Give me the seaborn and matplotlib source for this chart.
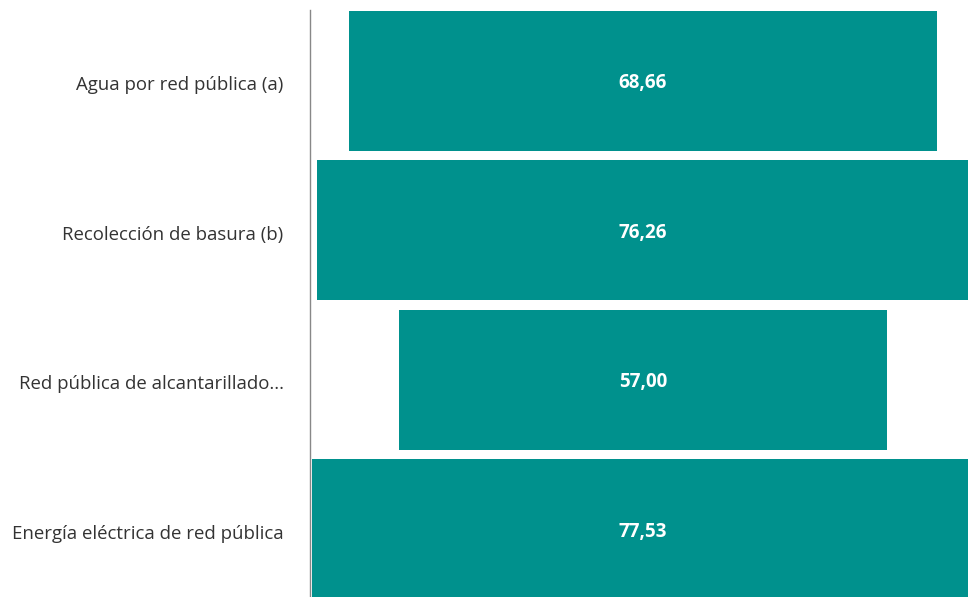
import matplotlib
matplotlib.use("Agg")
import matplotlib.pyplot as plt
import matplotlib.transforms as mtransforms
import seaborn as sns
import pandas as pd

categories = [
    "Agua por red pública (a)",
    "Recolección de basura (b)",
    "Red pública de alcantarillado...",
    "Energía eléctrica de red pública",
]
values = [68.66, 76.26, 57.00, 77.53]

bar_color = "#00918d"

df = pd.DataFrame({"categoria": categories, "valor": values})

sns.set_style("white")
plt.rcParams["font.family"] = ["Open Sans", "DejaVu Sans"]

fig = plt.figure(figsize=(9.68, 5.97), dpi=100)
ax = fig.add_axes([310 / 968, -7 / 597, 666 / 968, 598 / 597])

sns.barplot(data=df, x="valor", y="categoria", orient="h", color=bar_color,
            saturation=1, width=0.936, ax=ax)

# center each bar around zero (funnel layout)
for patch in ax.patches:
    w = patch.get_width()
    patch.set_x(-w / 2)
    patch.set_edgecolor("none")

shift = mtransforms.ScaledTranslation(0, -2.5 / 100, fig.dpi_scale_trans)

for i, v in enumerate(values):
    ax.text(0, i, f"{v:.2f}".replace(".", ","), ha="center", va="center",
            color="white", fontsize=13.5, fontweight="bold",
            transform=ax.transData + shift)

ax.set_xlim(-38.95, 38.95)
ax.set_ylim(3.5, -0.5)
ax.set_xlabel("")
ax.set_ylabel("")
ax.set_xticks([])
ax.tick_params(axis="y", length=0, pad=19, labelsize=13.4, labelcolor="#333333")
for lbl in ax.get_yticklabels():
    lbl.set_transform(lbl.get_transform() + shift)

for side in ["top", "right", "bottom"]:
    ax.spines[side].set_visible(False)
ax.spines["left"].set_color("#888888")
ax.spines["left"].set_linewidth(1)
ax.spines["left"].set_bounds(-0.47, 3.5)

fig.savefig("out.png", dpi=100)
